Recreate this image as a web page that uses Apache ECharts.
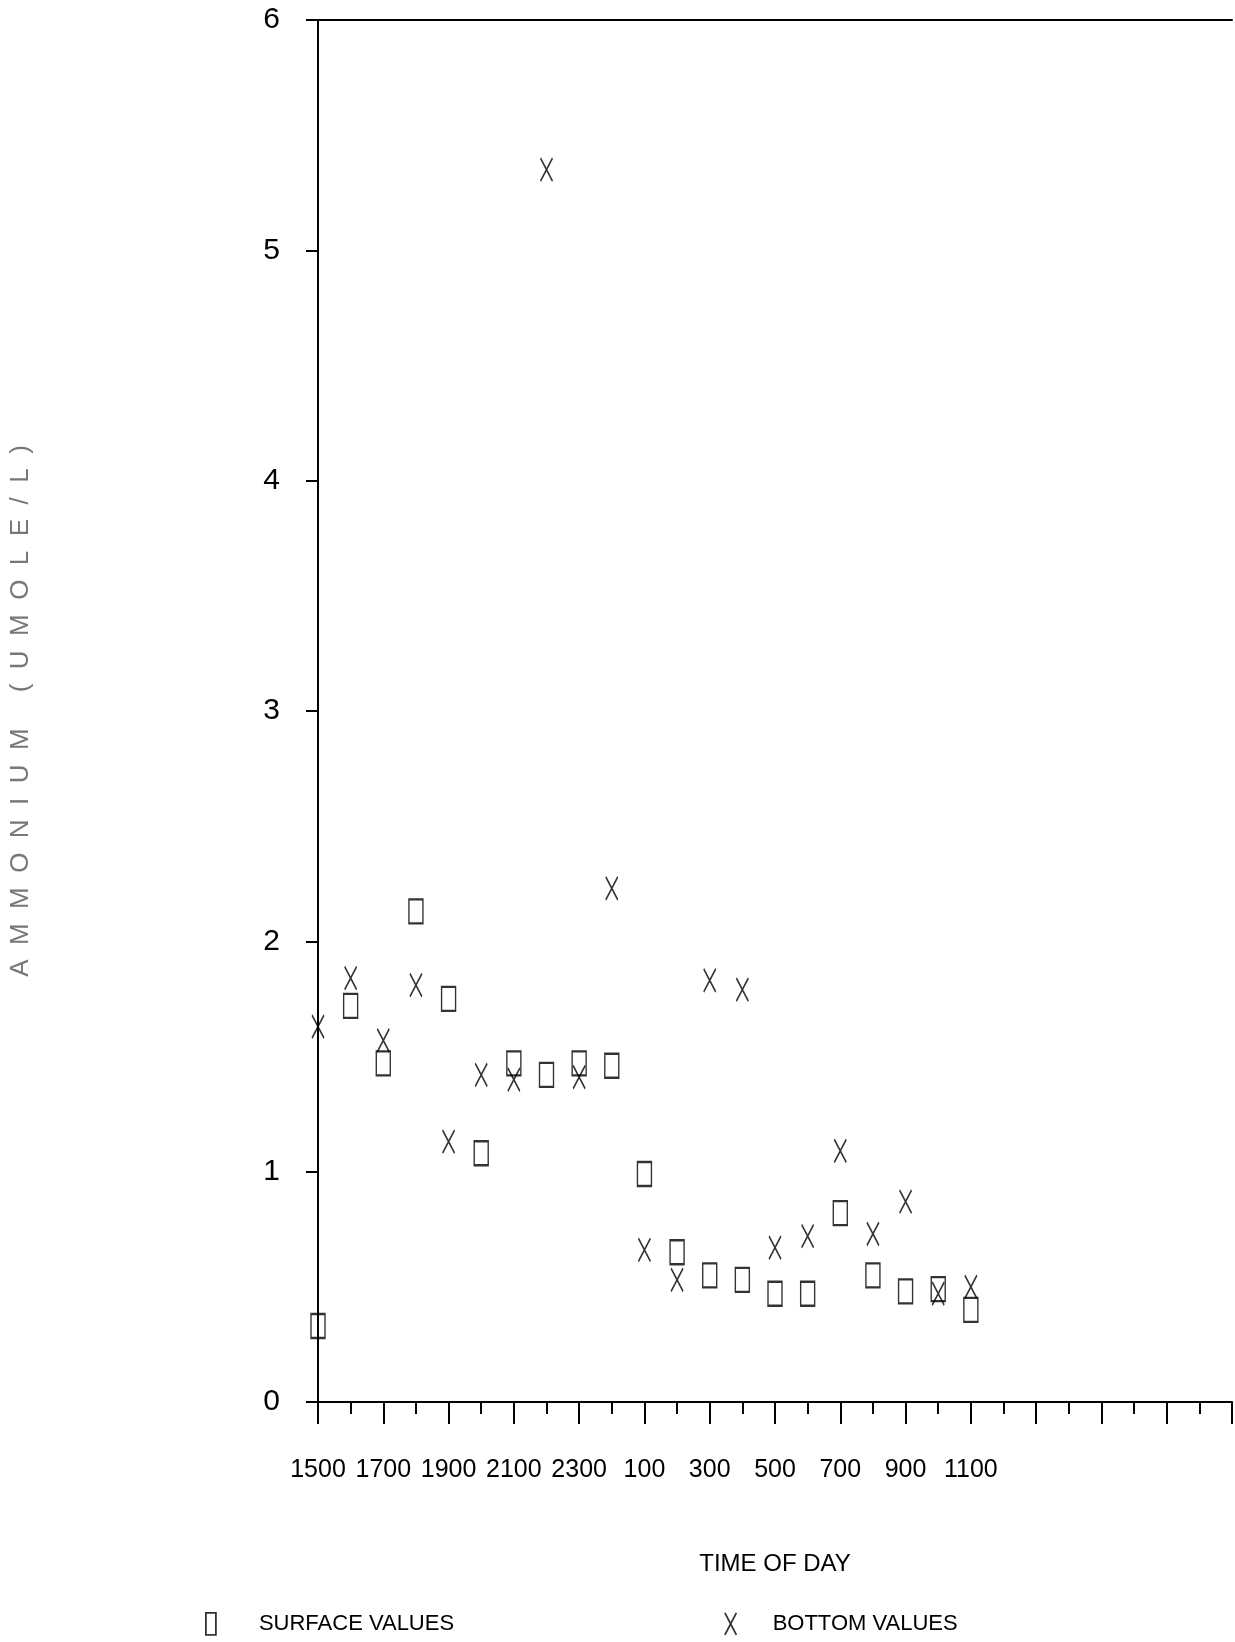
<!DOCTYPE html>
<html><head><meta charset="utf-8">
<script src="https://cdn.jsdelivr.net/npm/echarts/dist/echarts.min.js"></script>
<style>html,body{margin:0;padding:0;background:#fff}#c{width:1235px;height:1642px}</style>
</head><body><div id="c"></div>
<script>
// times of day, one per hour, x position = index
const timeLabels = ['1500','1600','1700','1800','1900','2000','2100','2200','2300','2400','100','200','300','400','500','600','700','800','900','1000','1100'];
const xTickLabels = ['1500','1700','1900','2100','2300','100','300','500','700','900','1100'];
const yTickLabels = ['0','1','2','3','4','5','6'];
const surfaceValues = [0.33,1.72,1.47,2.13,1.75,1.08,1.47,1.42,1.47,1.46,0.99,0.65,0.55,0.53,0.47,0.47,0.82,0.55,0.48,0.49,0.40];
const bottomValues  = [1.63,1.84,1.57,1.81,1.13,1.42,1.40,5.35,1.41,2.23,0.66,0.53,1.83,1.79,0.67,0.72,1.09,0.73,0.87,0.47,0.50];

const NARROW = "'Liberation Sans Narrow', 'Liberation Sans', sans-serif";
const X_PATH = 'path://M0,0L12,23M12,0L0,23';
const markStyle = {color:'transparent', borderColor:'#000', borderWidth:1.8};
const lineStyle = {color:'#000', width:2};

const chart = echarts.init(document.getElementById('c'), null, {renderer:'canvas'});
chart.setOption({
  animation:false,
  backgroundColor:'#fff',
  grid:{left:315, right:0, top:20, bottom:240, containLabel:false},
  xAxis:[{
    type:'value', min:0, max:28, interval:2, position:'bottom',
    axisLine:{show:true, onZero:false, lineStyle:lineStyle},
    axisTick:{show:true, length:22, lineStyle:lineStyle},
    minorTick:{show:true, splitNumber:2, length:12, lineStyle:lineStyle},
    splitLine:{show:false}, minorSplitLine:{show:false},
    axisLabel:{color:'#000', fontFamily:NARROW, fontSize:25, margin:56,
      showMinLabel:true, showMaxLabel:true, hideOverlap:false,
      formatter:function(v){ return xTickLabels[v/2] || ''; }},
    name:'TIME OF DAY', nameLocation:'middle', nameGap:150,
    nameTextStyle:{color:'#000', fontFamily:NARROW, fontSize:24}
  },{
    type:'value', min:0, max:28, position:'top',
    axisLine:{show:true, onZero:false, lineStyle:lineStyle},
    axisTick:{show:false}, axisLabel:{show:false}, splitLine:{show:false}
  }],
  yAxis:{
    type:'value', min:0, max:6, interval:1,
    axisLine:{show:true, onZero:false, lineStyle:lineStyle},
    axisTick:{show:true, length:12, lineStyle:lineStyle},
    splitLine:{show:false},
    axisLabel:{color:'#000', fontFamily:NARROW, fontSize:30, margin:38,
      formatter:function(v){ return yTickLabels[v]; }},
    name:'A  M  M  O  N  I  U  M     (  U  M  O  L  E  /  L  )',
    nameLocation:'middle', nameGap:284,
    nameTextStyle:{color:'#777', fontFamily:"'Liberation Sans', sans-serif", fontSize:26}
  },
  legend:[{
    data:[{name:'SURFACE VALUES', icon:'rect', itemStyle:markStyle}],
    left:205, top:1612, padding:0, itemWidth:10, itemHeight:22, selectedMode:false,
    textStyle:{color:'#000', fontFamily:NARROW, fontSize:22, padding:[0,0,0,38]}
  },{
    data:[{name:'BOTTOM VALUES', icon:X_PATH, itemStyle:markStyle}],
    left:724, top:1612, padding:0, itemWidth:12, itemHeight:22, selectedMode:false,
    textStyle:{color:'#000', fontFamily:NARROW, fontSize:22, padding:[0,0,0,31]}
  }],
  series:[{
    name:'SURFACE VALUES', type:'scatter',
    data:surfaceValues.map(function(v,i){return [i,v];}),
    symbol:'rect', symbolSize:[14,24], itemStyle:markStyle,
    emphasis:{disabled:true}
  },{
    name:'BOTTOM VALUES', type:'scatter',
    data:bottomValues.map(function(v,i){return [i,v];}),
    symbol:X_PATH, symbolSize:[12,23], itemStyle:markStyle,
    emphasis:{disabled:true}
  }]
});
</script></body></html>
